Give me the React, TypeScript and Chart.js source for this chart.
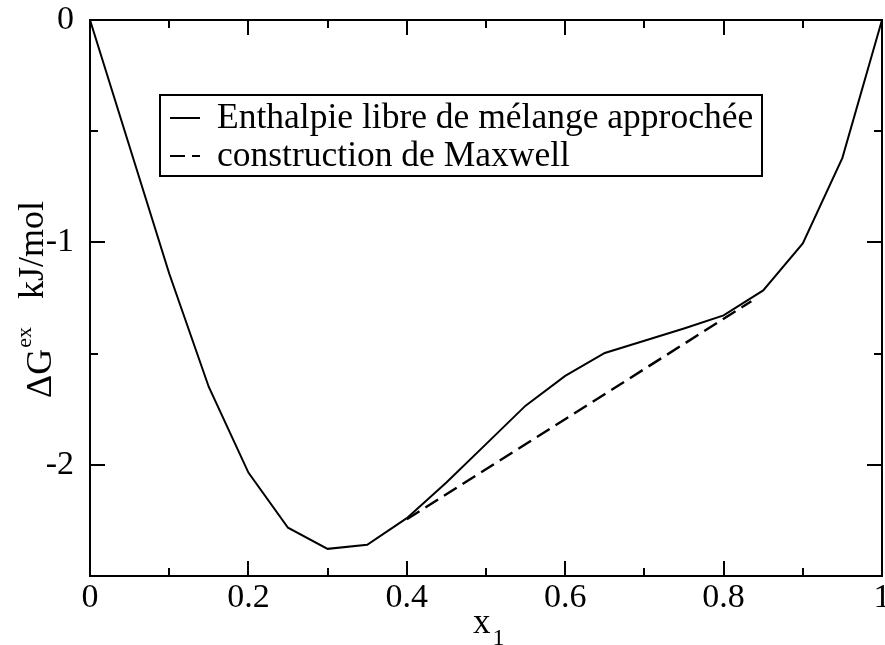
import React, { useEffect, useRef } from "react";
import { Chart, registerables } from "chart.js";

Chart.register(...registerables);

// ---- data ----
const xValues = [0, 0.05, 0.1, 0.15, 0.2, 0.25, 0.3, 0.35, 0.4, 0.45, 0.5, 0.55, 0.6, 0.65, 0.7, 0.75, 0.8, 0.85, 0.9, 0.95, 1.0];
const freeEnthalpy = [0, -0.57, -1.14, -1.65, -2.035, -2.283, -2.378, -2.36, -2.24, -2.08, -1.907, -1.734, -1.6, -1.497, -1.442, -1.387, -1.328, -1.216, -1.005, -0.62, 0];
const maxwellX = [0.4, 0.835];
const maxwellY = [-2.245, -1.265];
const seriesLabels = ["Enthalpie libre de mélange approchée", "construction de Maxwell"];
const xMajorTicks = [0, 0.2, 0.4, 0.6, 0.8, 1];
const xMinorTicks = [0.1, 0.3, 0.5, 0.7, 0.9];
const yMajorTicks = [0, -1, -2];
const yMinorTicks = [-0.5, -1.5];
const xRange = [0, 1];
const yRange = [-2.5, 0];

const FONT = "'Liberation Serif', 'Times New Roman', serif";
const DASH = [15, 7];

const framePlugin = {
  id: "xmgraceFrame",
  afterDraw(chart: any) {
    const { ctx, chartArea: a, scales } = chart;
    const xs = scales.x;
    const ys = scales.y;
    ctx.save();
    ctx.strokeStyle = "#000";
    ctx.fillStyle = "#000";
    ctx.lineWidth = 2;
    ctx.setLineDash([]);
    ctx.strokeRect(a.left, a.top, a.right - a.left, a.bottom - a.top);

    const drawX = (vals: number[], len: number) => {
      vals.forEach((v) => {
        const px = Math.round(xs.getPixelForValue(v));
        ctx.beginPath();
        ctx.moveTo(px, a.bottom);
        ctx.lineTo(px, a.bottom - len);
        ctx.moveTo(px, a.top);
        ctx.lineTo(px, a.top + len);
        ctx.stroke();
      });
    };
    const drawY = (vals: number[], len: number) => {
      vals.forEach((v) => {
        const py = Math.round(ys.getPixelForValue(v));
        ctx.beginPath();
        ctx.moveTo(a.left, py);
        ctx.lineTo(a.left + len, py);
        ctx.moveTo(a.right, py);
        ctx.lineTo(a.right - len, py);
        ctx.stroke();
      });
    };
    drawX(xMajorTicks, 15);
    drawX(xMinorTicks, 8);
    drawY(yMajorTicks, 15);
    drawY(yMinorTicks, 8);

    // legend
    const bx = 160, by = 95, bw = 602, bh = 81;
    ctx.lineWidth = 2;
    ctx.strokeRect(bx, by, bw, bh);
    const ds = chart.data.datasets;
    const rows = [128, 166];
    ctx.font = `35.5px ${FONT}`;
    ctx.textBaseline = "alphabetic";
    ctx.textAlign = "left";
    ds.forEach((d: any, i: number) => {
      const ly = rows[i] - 10;
      ctx.setLineDash(d.borderDash || []);
      ctx.lineWidth = 2;
      ctx.beginPath();
      ctx.moveTo(170, ly);
      ctx.lineTo(200, ly);
      ctx.stroke();
      ctx.setLineDash([]);
      ctx.fillText(d.label, 217, rows[i]);
    });

    // x axis title: x with subscript 1
    ctx.font = `35px ${FONT}`;
    ctx.fillText("x", 473, 633);
    const xw = ctx.measureText("x").width;
    ctx.font = `24px ${FONT}`;
    ctx.fillText("1", 473 + xw + 2, 645);

    // y axis title
    ctx.save();
    ctx.translate(51, 398);
    ctx.rotate(-Math.PI / 2);
    ctx.font = `36px ${FONT}`;
    ctx.fillText("ΔG", 0, 0);
    const w = ctx.measureText("ΔG").width;
    ctx.font = `22px ${FONT}`;
    ctx.fillText("ex", w + 1, -20);
    ctx.font = `36px ${FONT}`;
    ctx.fillText("kJ/mol", 99, -8);
    ctx.restore();

    ctx.restore();
  },
};

export default function App() {
  const ref = useRef<HTMLCanvasElement | null>(null);

  useEffect(() => {
    document.body.style.margin = "0";
    const canvas = ref.current;
    if (!canvas) return;
    const chart = new Chart(canvas, {
      type: "line",
      data: {
        datasets: [
          {
            label: seriesLabels[0],
            data: xValues.map((x, i) => ({ x, y: freeEnthalpy[i] })),
            borderColor: "#000",
            borderWidth: 2,
            pointRadius: 0,
            tension: 0,
            fill: false,
          },
          {
            label: seriesLabels[1],
            data: maxwellX.map((x, i) => ({ x, y: maxwellY[i] })),
            borderColor: "#000",
            borderWidth: 2.4,
            borderDash: DASH,
            pointRadius: 0,
            tension: 0,
            fill: false,
          },
        ],
      },
      options: {
        responsive: false,
        animation: false,
        events: [],
        layout: { padding: { top: 20, right: 3, left: 0, bottom: 0 } },
        plugins: { legend: { display: false }, tooltip: { enabled: false } },
        scales: {
          x: {
            type: "linear",
            min: xRange[0],
            max: xRange[1],
            grid: { display: false },
            border: { display: false },
            afterBuildTicks: (s: any) => {
              s.ticks = xMajorTicks.map((v) => ({ value: v }));
            },
            afterFit: (s: any) => {
              s.height = 69;
              s.paddingLeft = 0;
              s.paddingRight = 0;
            },
            ticks: {
              color: "#000",
              padding: -6,
              maxRotation: 0,
              autoSkip: false,
              font: { family: FONT, size: 34 },
              callback: (v: any) => String(v),
            },
          },
          y: {
            type: "linear",
            min: yRange[0],
            max: yRange[1],
            grid: { display: false },
            border: { display: false },
            afterBuildTicks: (s: any) => {
              s.ticks = yMajorTicks.map((v) => ({ value: v }));
            },
            afterFit: (s: any) => {
              s.width = 90;
              s.paddingTop = 0;
              s.paddingBottom = 0;
            },
            ticks: {
              color: "#000",
              padding: 8,
              autoSkip: false,
              font: { family: FONT, size: 34 },
              callback: (v: any) => String(v),
            },
          },
        },
      },
      plugins: [framePlugin],
    } as any);
    return () => chart.destroy();
  }, []);

  return <canvas ref={ref} width={885} height={645} style={{ display: "block" }} />;
}
